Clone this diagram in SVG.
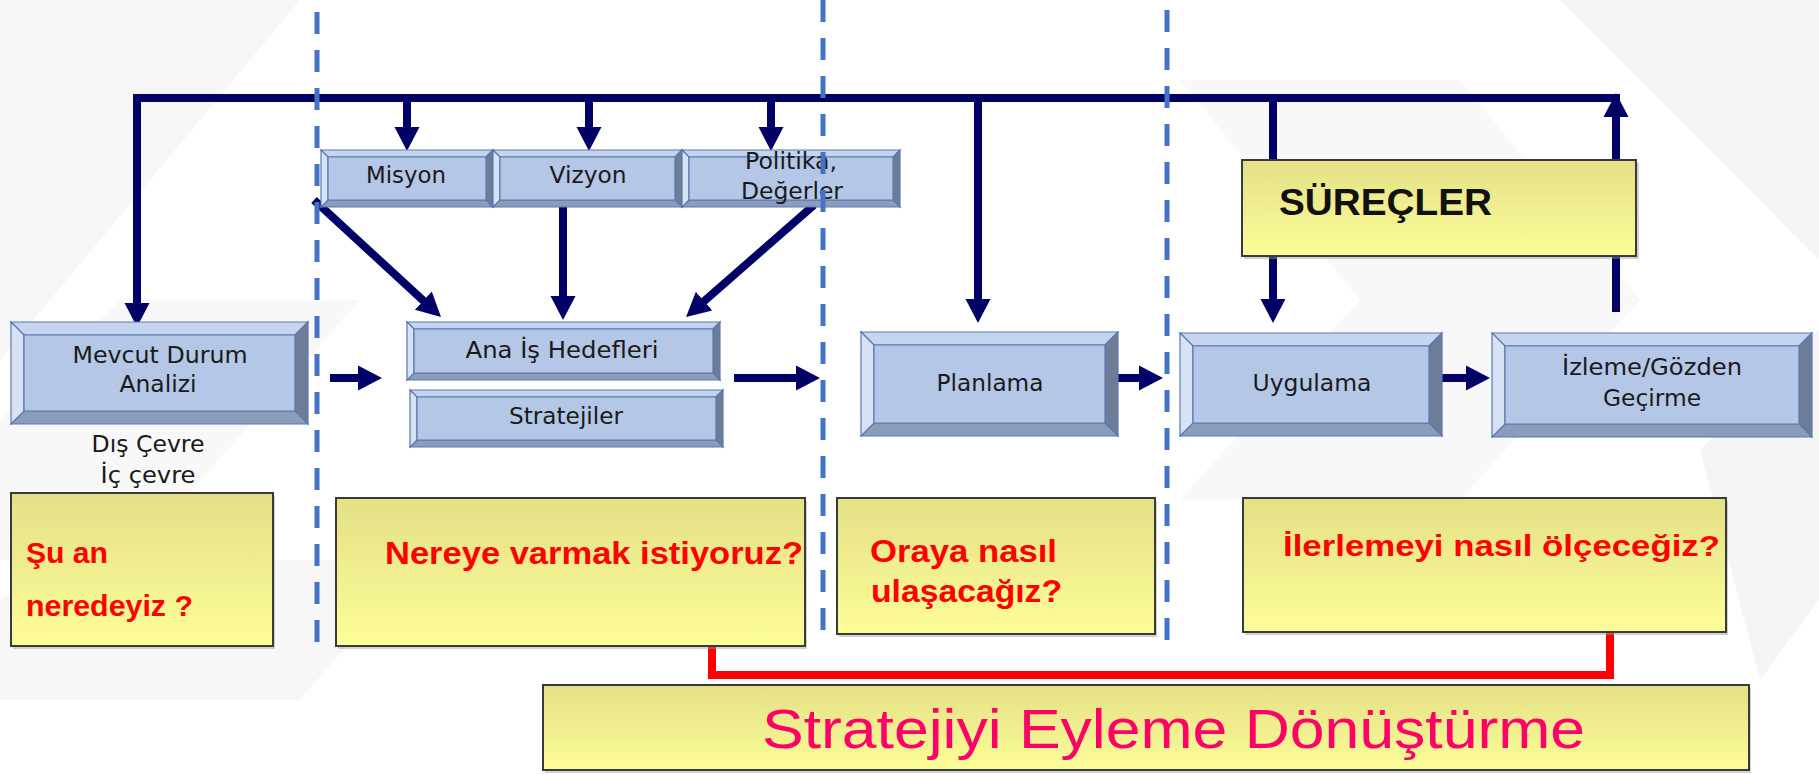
<svg xmlns="http://www.w3.org/2000/svg" width="1819" height="775" viewBox="0 0 1819 775">
<defs>
<linearGradient id="yel" x1="0" y1="0" x2="0" y2="1">
<stop offset="0" stop-color="#e3e086"/>
<stop offset="1" stop-color="#fdfd98"/>
</linearGradient>
<marker id="ah" markerUnits="userSpaceOnUse" markerWidth="26" markerHeight="28" viewBox="0 -14 26 28" refX="2" refY="0" orient="auto">
<path d="M0,-12.5 L24,0 L0,12.5 z" fill="#000066"/>
</marker>
</defs>
<style>
.nav{fill:none;stroke:#000066;stroke-width:8;}
.arr{marker-end:url(#ah);}
.red{fill:none;stroke:#ff0000;stroke-width:8;}
.dash{fill:none;stroke:#4472c4;stroke-width:5;stroke-dasharray:22 16;}
.bt{fill:#c6d5ee;stroke:#5b79b0;stroke-width:1.2;}
.bl{fill:#d7e2f4;stroke:#5b79b0;stroke-width:1.2;}
.br{fill:#6e7c98;stroke:#5b79b0;stroke-width:1.2;}
.bb{fill:#8c9dbc;stroke:#5b79b0;stroke-width:1.2;}
.face{fill:#b4c7e7;stroke:#5b79b0;stroke-width:1.2;}
.lbl{font-family:"DejaVu Sans","Liberation Sans",sans-serif;font-size:23px;fill:#1a1a1a;text-anchor:middle;}
.yb{fill:url(#yel);stroke:#3a3a3a;stroke-width:2;}
.sh{fill:#9a9a9a;opacity:0.45;}
.q{font-family:"Liberation Sans",Arial,sans-serif;font-weight:bold;fill:#ff0000;}
</style>
<rect x="0" y="0" width="1819" height="775" fill="#ffffff"/>
<g id="background" fill="#f6f6f6">
<polygon points="0,0 300,0 0,360"/>
<polygon points="0,420 120,300 360,300 130,560 0,560" fill="#f8f8f8"/>
<polygon points="0,600 60,560 420,560 300,700 0,700" fill="#f7f7f7"/>
<polygon points="1180,80 1460,80 1640,300 1460,500 1180,500 1360,300" fill="#f8f8f8"/>
<polygon points="1560,0 1819,0 1819,260" fill="#f5f5f5"/>
<polygon points="1700,450 1819,330 1819,600 1760,680" fill="#f4f4f4"/>
</g>
<g id="connectors">
<path class="nav arr" d="M1616,120 V98 H137 V305"/>
<path class="nav arr" d="M1616,312 V115"/>
<path class="nav arr" d="M407,98 V129"/>
<path class="nav arr" d="M589,98 V129"/>
<path class="nav arr" d="M771,98 V129"/>
<path class="nav arr" d="M978,98 V301"/>
<path class="nav arr" d="M1273,98 V301"/>
<path class="nav arr" d="M314,200 L424.8,302"/>
<path class="nav arr" d="M563,207 V298"/>
<path class="nav arr" d="M814,205 L702.6,302.5"/>
<path class="nav arr" d="M330,378 H360"/>
<path class="nav arr" d="M734,378 H798"/>
<path class="nav arr" d="M1110,378 H1141"/>
<path class="nav arr" d="M1439,378 H1468"/>
<path class="red" d="M712,646 V675 H1610 V632"/>
</g>
<g id="mevcut">
<polygon class="bt" points="11,322 308,322 295,335 24,335"/>
<polygon class="br" points="308,322 308,424 295,411 295,335"/>
<polygon class="bb" points="308,424 11,424 24,411 295,411"/>
<polygon class="bl" points="11,424 11,322 24,335 24,411"/>
<polygon class="face" points="24,335 295,335 295,411 24,411"/>
<text class="lbl" x="160" y="363" textLength="175" lengthAdjust="spacingAndGlyphs">Mevcut Durum</text>
<text class="lbl" x="158" y="392" textLength="77" lengthAdjust="spacingAndGlyphs">Analizi</text>
</g>
<g id="cevre">
<text class="lbl" x="148" y="452" textLength="113" lengthAdjust="spacingAndGlyphs">Dış Çevre</text>
<text class="lbl" x="148" y="483" textLength="95" lengthAdjust="spacingAndGlyphs">İç çevre</text>
</g>
<g id="misyon">
<polygon class="bt" points="321,150 493,150 486,157 328,157"/>
<polygon class="br" points="493,150 493,207 486,200 486,157"/>
<polygon class="bb" points="493,207 321,207 328,200 486,200"/>
<polygon class="bl" points="321,207 321,150 328,157 328,200"/>
<polygon class="face" points="328,157 486,157 486,200 328,200"/>
<text class="lbl" x="406" y="183" textLength="80" lengthAdjust="spacingAndGlyphs">Misyon</text>
</g>
<g id="vizyon">
<polygon class="bt" points="493,150 682,150 675,157 500,157"/>
<polygon class="br" points="682,150 682,207 675,200 675,157"/>
<polygon class="bb" points="682,207 493,207 500,200 675,200"/>
<polygon class="bl" points="493,207 493,150 500,157 500,200"/>
<polygon class="face" points="500,157 675,157 675,200 500,200"/>
<text class="lbl" x="588" y="183" textLength="77" lengthAdjust="spacingAndGlyphs">Vizyon</text>
</g>
<g id="politika">
<polygon class="bt" points="682,150 900,150 893,157 689,157"/>
<polygon class="br" points="900,150 900,207 893,200 893,157"/>
<polygon class="bb" points="900,207 682,207 689,200 893,200"/>
<polygon class="bl" points="682,207 682,150 689,157 689,200"/>
<polygon class="face" points="689,157 893,157 893,200 689,200"/>
<text class="lbl" x="791" y="169" textLength="92" lengthAdjust="spacingAndGlyphs">Politika,</text>
<text class="lbl" x="792" y="199" textLength="102" lengthAdjust="spacingAndGlyphs">Değerler</text>
</g>
<g id="ana-is-hedefleri">
<polygon class="bt" points="407,322 720,322 713,329 414,329"/>
<polygon class="br" points="720,322 720,380 713,373 713,329"/>
<polygon class="bb" points="720,380 407,380 414,373 713,373"/>
<polygon class="bl" points="407,380 407,322 414,329 414,373"/>
<polygon class="face" points="414,329 713,329 713,373 414,373"/>
<text class="lbl" x="562" y="358" textLength="193" lengthAdjust="spacingAndGlyphs">Ana İş Hedefleri</text>
</g>
<g id="stratejiler">
<polygon class="bt" points="410,390 723,390 716,397 417,397"/>
<polygon class="br" points="723,390 723,447 716,440 716,397"/>
<polygon class="bb" points="723,447 410,447 417,440 716,440"/>
<polygon class="bl" points="410,447 410,390 417,397 417,440"/>
<polygon class="face" points="417,397 716,397 716,440 417,440"/>
<text class="lbl" x="566" y="424" textLength="114" lengthAdjust="spacingAndGlyphs">Stratejiler</text>
</g>
<g id="planlama">
<polygon class="bt" points="861,332 1118,332 1105,345 874,345"/>
<polygon class="br" points="1118,332 1118,436 1105,423 1105,345"/>
<polygon class="bb" points="1118,436 861,436 874,423 1105,423"/>
<polygon class="bl" points="861,436 861,332 874,345 874,423"/>
<polygon class="face" points="874,345 1105,345 1105,423 874,423"/>
<text class="lbl" x="990" y="391" textLength="107" lengthAdjust="spacingAndGlyphs">Planlama</text>
</g>
<g id="uygulama">
<polygon class="bt" points="1180,333 1442,333 1429,346 1193,346"/>
<polygon class="br" points="1442,333 1442,436 1429,423 1429,346"/>
<polygon class="bb" points="1442,436 1180,436 1193,423 1429,423"/>
<polygon class="bl" points="1180,436 1180,333 1193,346 1193,423"/>
<polygon class="face" points="1193,346 1429,346 1429,423 1193,423"/>
<text class="lbl" x="1312" y="391" textLength="119" lengthAdjust="spacingAndGlyphs">Uygulama</text>
</g>
<g id="izleme">
<polygon class="bt" points="1492,333 1812,333 1799,346 1505,346"/>
<polygon class="br" points="1812,333 1812,437 1799,424 1799,346"/>
<polygon class="bb" points="1812,437 1492,437 1505,424 1799,424"/>
<polygon class="bl" points="1492,437 1492,333 1505,346 1505,424"/>
<polygon class="face" points="1505,346 1799,346 1799,424 1505,424"/>
<text class="lbl" x="1652" y="375" textLength="180" lengthAdjust="spacingAndGlyphs">İzleme/Gözden</text>
<text class="lbl" x="1652" y="406" textLength="98" lengthAdjust="spacingAndGlyphs">Geçirme</text>
</g>
<g id="surecler">
<rect class="sh" x="1244" y="163" width="395" height="96"/>
<rect class="yb" x="1242" y="160" width="394" height="96"/>
<text x="1279" y="215" font-family="'Liberation Sans',Arial,sans-serif" font-weight="bold" font-size="37" fill="#111111" textLength="213" lengthAdjust="spacingAndGlyphs">SÜREÇLER</text>
</g>
<g id="su-an">
<rect class="sh" x="13" y="496" width="262" height="153"/>
<rect class="yb" x="11" y="493" width="262" height="153"/>
<text class="q" x="26" y="563" font-size="30" textLength="82" lengthAdjust="spacingAndGlyphs">Şu an</text>
<text class="q" x="26" y="616" font-size="30" textLength="167" lengthAdjust="spacingAndGlyphs">neredeyiz ?</text>
</g>
<g id="nereye">
<rect class="sh" x="338" y="501" width="469" height="148"/>
<rect class="yb" x="336" y="498" width="469" height="148"/>
<text class="q" x="385" y="564" font-size="32" textLength="418" lengthAdjust="spacingAndGlyphs">Nereye varmak istiyoruz?</text>
</g>
<g id="oraya">
<rect class="sh" x="839" y="501" width="318" height="136"/>
<rect class="yb" x="837" y="498" width="318" height="136"/>
<text class="q" x="870" y="562" font-size="32" textLength="187" lengthAdjust="spacingAndGlyphs">Oraya nasıl</text>
<text class="q" x="871" y="602" font-size="32" textLength="191" lengthAdjust="spacingAndGlyphs">ulaşacağız?</text>
</g>
<g id="ilerleme">
<rect class="sh" x="1245" y="501" width="483" height="134"/>
<rect class="yb" x="1243" y="498" width="483" height="134"/>
<text class="q" x="1283" y="556" font-size="30" textLength="437" lengthAdjust="spacingAndGlyphs">İlerlemeyi nasıl ölçeceğiz?</text>
</g>
<g id="strateji-eylem">
<rect class="sh" x="545" y="688" width="1206" height="85"/>
<rect class="yb" x="543" y="685" width="1206" height="85"/>
<text x="762" y="748" font-family="'Liberation Sans',Arial,sans-serif" font-size="56" fill="#ff0066" textLength="823" lengthAdjust="spacingAndGlyphs">Stratejiyi Eyleme Dönüştürme</text>
</g>
<g id="dividers">
<line class="dash" x1="317" y1="12" x2="317" y2="653"/>
<line class="dash" x1="823" y1="0" x2="823" y2="645"/>
<line class="dash" x1="1167" y1="10" x2="1167" y2="648"/>
</g>
</svg>
